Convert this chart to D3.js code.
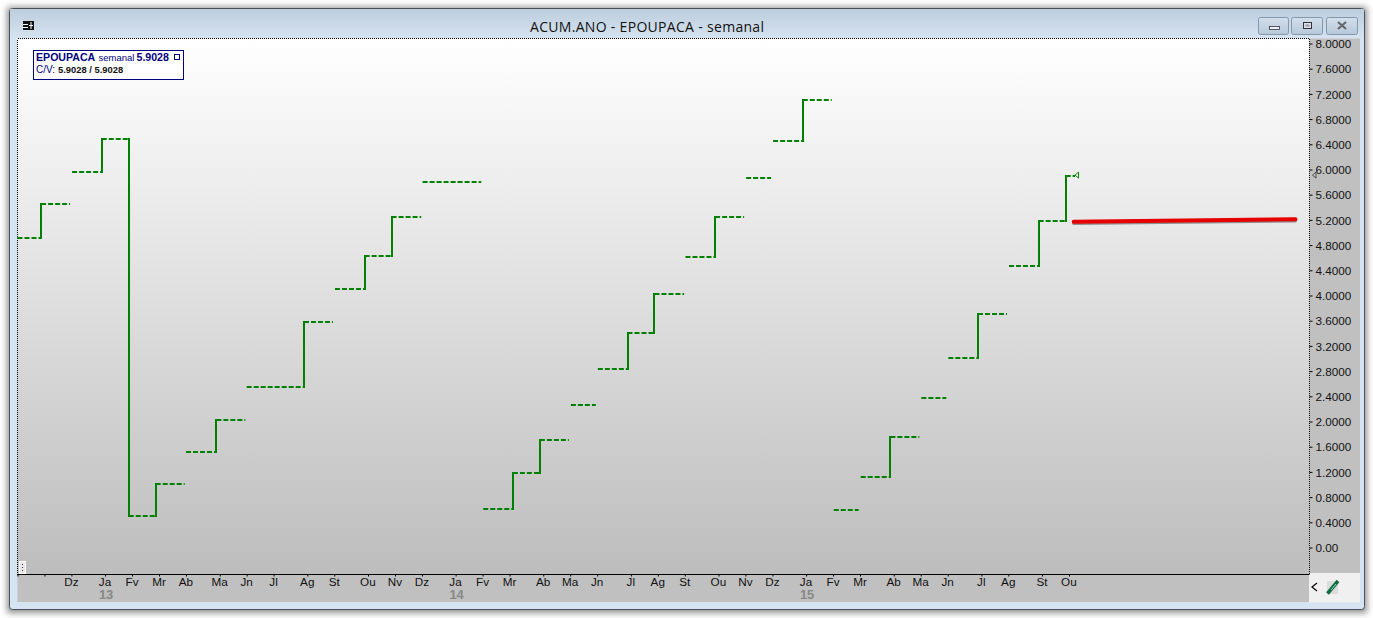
<!DOCTYPE html>
<html><head><meta charset="utf-8">
<script src="https://cdn.jsdelivr.net/npm/d3@7/dist/d3.min.js"></script>
<style>html,body{margin:0;padding:0;background:#fff;overflow:hidden}svg{display:block}text{font-family:"Liberation Sans",Arial,sans-serif}</style>
</head><body><svg id="c" width="1373" height="618"></svg>
<script>
// --- data ---
const title = "ACUM.ANO - EPOUPACA - semanal";
const segStart = [0,3.5,8.1,12.5,16.5,20.5,25,29.5,34,42.5,47.1,51.5,55.5,60.1,69.1,73.5,77.5,82.1,86.1,90.5,94.5,99.1,103.5,108.1,112.1,116.5,121.1,125.1,129.5,134.1,138.1,142.5,147.1,151.5,155.5];
const segEnd   = [3.5,7.8,12.5,16.5,20.5,24.8,29.5,33.8,42.5,46.8,51.5,55.5,59.9,68.8,73.5,77.5,81.8,85.8,90.5,94.5,98.9,103.5,107.8,111.8,116.5,120.8,124.8,129.5,133.8,137.8,142.5,146.8,151.5,155.5,156.9];
const segValue = [4.91,5.45,5.96,6.48,0.50,1.01,1.52,2.02,2.54,3.58,4.10,4.63,5.25,5.80,0.61,1.19,1.71,2.26,2.83,3.40,4.02,4.61,5.24,5.87,6.45,7.10,0.60,1.12,1.75,2.37,3.01,3.71,4.47,5.19,5.9028];
const trendWeeks = [156.7,189.6];
const trendValues = [5.17,5.21];
const yTicks = [8,7.6,7.2,6.8,6.4,6,5.6,5.2,4.8,4.4,4,3.6,3.2,2.8,2.4,2,1.6,1.2,0.8,0.4,0];
const monthWeeks = [0,4,8,13,17,21,25,30,34,38,43,47,52,56,60,65,69,73,78,82,86,91,95,99,104,108,112,117,121,125,130,134,138,143,147,152,156];
const monthLabels = ["","","Dz","Ja","Fv","Mr","Ab","Ma","Jn","Jl","Ag","St","Ou","Nv","Dz","Ja","Fv","Mr","Ab","Ma","Jn","Jl","Ag","St","Ou","Nv","Dz","Ja","Fv","Mr","Ab","Ma","Jn","Jl","Ag","St","Ou"];
const yearWeeks = [13,65,117];
const yearLabels = ["13","14","15"];

const svg = d3.select("#c");
const defs = svg.append("defs");
const grad = (id,stops)=>{const g=defs.append("linearGradient").attr("id",id).attr("x1",0).attr("y1",0).attr("x2",0).attr("y2",1);
  stops.forEach(s=>g.append("stop").attr("offset",s[0]).attr("stop-color",s[1]));};
grad("plotBg",[[0,"#ffffff"],[1,"#bdbdbd"]]);
grad("titleBg",[[0,"#bccddd"],[1,"#d6e3f0"]]);
grad("btn",[[0,"#d3dfeb"],[1,"#b6c8da"]]);
const sh = defs.append("filter").attr("id","sh").attr("x","-3%").attr("y","-5%").attr("width","106%").attr("height","110%");
sh.append("feGaussianBlur").attr("stdDeviation",3);

// window chrome
svg.append("rect").attr("x",7).attr("y",7).attr("width",1360).attr("height",606).attr("fill","#555").attr("opacity",.65).attr("filter","url(#sh)");
svg.append("rect").attr("x",9.5).attr("y",8.5).attr("width",1355).attr("height",601).attr("rx",3).attr("fill","#d6e3f0").attr("stroke","#4a5058");
svg.append("rect").attr("x",10).attr("y",9).attr("width",1354).attr("height",29).attr("fill","url(#titleBg)");
svg.append("text").attr("x",647).attr("y",32).attr("text-anchor","middle").attr("font-size",14).attr("fill","#111").style("font-family","'Open Sans'").attr("textLength",234).text(title);

// window buttons
[[1259,30],[1292,31],[1327,31]].forEach(b=>svg.append("rect").attr("x",b[0]-.5).attr("y",17.5).attr("width",b[1]).attr("height",17).attr("rx",2).attr("fill","url(#btn)").attr("stroke","#8397ad"));
svg.append("rect").attr("x",1269.5).attr("y",26.5).attr("width",10).attr("height",3).attr("fill","#eef").attr("stroke","#333").attr("stroke-width",.8);
svg.append("rect").attr("x",1303.5).attr("y",22.5).attr("width",8).attr("height",6).attr("fill","#dde").attr("stroke","#333").attr("stroke-width",1);
svg.append("rect").attr("x",1305.5).attr("y",24.5).attr("width",4).attr("height",2).attr("fill","#99a").attr("stroke","none");
svg.append("path").attr("d","M1338,22 L1346,29 M1346,22 L1338,29").attr("stroke","#666").attr("stroke-width",2.2);

// app icon
svg.append("rect").attr("x",23).attr("y",21).attr("width",11).attr("height",9).attr("fill","#111");
svg.append("path").attr("d","M23,24.5h5M23,27.5h5M31,22v7M29,25.5h4").attr("stroke","#fff").attr("stroke-width",1);

// plot backgrounds
const L=17.5,R=1309.5,T=38.5,B=574.5;
svg.append("rect").attr("x",L).attr("y",T).attr("width",R-L).attr("height",B-T).attr("fill","url(#plotBg)");
svg.append("rect").attr("x",R).attr("y",T).attr("width",50.5).attr("height",B-T).attr("fill","#c0c0c0");
svg.append("rect").attr("x",L).attr("y",B).attr("width",R-L).attr("height",27.5).attr("fill","#c0c0c0");
svg.append("rect").attr("x",R-.5).attr("y",B-1.5).attr("width",51).attr("height",29.5).attr("fill","#f0f0f0");

// scales
const x = d3.scaleLinear().domain([0,156]).range([17.5,1069]);
const y = d3.scaleLinear().domain([0,8]).range([547.5,43.5]);

// dotted borders
svg.append("path").attr("d",`M${L},${B}V${T}H${R}V${B}`).attr("fill","none").attr("stroke","#000").attr("stroke-dasharray","1,1").attr("shape-rendering","crispEdges");
svg.append("line").attr("x1",L).attr("x2",R).attr("y1",B).attr("y2",B).attr("stroke","#000");

// y axis
const yAxis = d3.axisRight(y).tickValues(yTicks).tickSize(3).tickPadding(3)
  .tickFormat(d=>d===0?"0.00":d3.format(".4f")(d));
const gy = svg.append("g").attr("transform",`translate(${R},0)`).call(yAxis);
gy.select(".domain").remove();
gy.selectAll("line").attr("stroke","#000");
gy.selectAll("text").attr("font-size",11.7).attr("fill","#111").style("font-family","'Liberation Sans'").attr("dy","0.36em").attr("x",6);

// x axis
const xAxis = d3.axisBottom(x).tickValues(monthWeeks).tickSize(2).tickPadding(2)
  .tickFormat(d=>monthLabels[monthWeeks.indexOf(d)]);
const gx = svg.append("g").attr("transform",`translate(0,${B})`).call(xAxis);
gx.select(".domain").remove();
gx.selectAll("line").attr("stroke","#000");
gx.selectAll("text").attr("font-size",11.7).attr("fill","#111").style("font-family","'Liberation Sans'").attr("y",3).attr("dx",-0.6).attr("dy","0.71em");
svg.selectAll(".yr").data(yearLabels).join("text").attr("class","yr")
  .attr("x",(d,i)=>x(yearWeeks[i])+1).attr("y",599).attr("text-anchor","middle")
  .attr("font-size",13).attr("font-weight","bold").attr("fill","#888").text(d=>d);

// handle
svg.append("rect").attr("x",19.5).attr("y",561.5).attr("width",6).attr("height",12).attr("fill","#e8e8e8").attr("stroke","#fff");
svg.append("path").attr("d","M22.5,564v8").attr("stroke","#336").attr("stroke-dasharray","1,2");

// series: horizontal dashes + vertical steps (snapped to whole pixels)
const green="#008000";
const px = v=>Math.round(v);
const g = svg.append("g");
g.selectAll(".h").data(segValue).join("line").attr("class","h")
  .attr("x1",(d,i)=>x(segStart[i])).attr("x2",(d,i)=>x(segEnd[i]))
  .attr("y1",d=>px(y(d))).attr("y2",d=>px(y(d)))
  .attr("stroke",green).attr("stroke-width",2).attr("stroke-dasharray","5,2");
const steps = d3.range(1,segValue.length).filter(i=>segStart[i]===segEnd[i-1]);
g.selectAll(".v").data(steps).join("line").attr("class","v")
  .attr("x1",i=>px(x(segStart[i]))).attr("x2",i=>px(x(segStart[i])))
  .attr("y1",i=>px(y(segValue[i-1]))+(segValue[i]>segValue[i-1]?1:-1)).attr("y2",i=>px(y(segValue[i]))+(segValue[i]>segValue[i-1]?-1:1))
  .attr("stroke",green).attr("stroke-width",2);

// last-value markers
const last = segValue[segValue.length-1], ly=y(last)-.5, lx=x(segEnd[segEnd.length-1]);
svg.append("path").attr("d",`M${lx},${ly}l3.5,-3v6z`).attr("fill","#fff").attr("stroke",green);
svg.append("path").attr("d",`M${R+3},${ly}l3.5,-3v6z`).attr("fill","none").attr("stroke","#333").attr("stroke-width",.8);

// trend line
const tl = d3.line().x((d,i)=>x(trendWeeks[i])).y(d=>y(d));
svg.append("path").attr("d",tl(trendValues)).attr("transform","translate(0,1.5)").attr("fill","none").attr("stroke","#777").attr("stroke-width",3.5).attr("stroke-linecap","round").attr("opacity",.8);
svg.append("path").attr("d",tl(trendValues)).attr("fill","none").attr("stroke","#e60000").attr("stroke-width",4).attr("stroke-linecap","round");

// legend box
const lg = svg.append("g");
lg.append("rect").attr("x",33.5).attr("y",50.5).attr("width",150).attr("height",29).attr("fill","#fff").attr("stroke","#000080");
lg.append("text").attr("x",36).attr("y",61).attr("font-size",10.6).attr("font-weight","bold").attr("fill","#000080").text("EPOUPACA");
lg.append("text").attr("x",98.5).attr("y",61).attr("font-size",9.5).attr("fill","#000080").text("semanal");
lg.append("text").attr("x",136.5).attr("y",61).attr("font-size",10.6).attr("font-weight","bold").attr("fill","#000080").text("5.9028");
lg.append("rect").attr("x",174.5).attr("y",54.5).attr("width",5).attr("height",5).attr("fill","#fff").attr("stroke","#000080");
lg.append("text").attr("x",36).attr("y",73).attr("font-size",10).attr("fill","#000080").text("C/V:");
lg.append("text").attr("x",58).attr("y",73).attr("font-size",9.4).attr("font-weight","bold").attr("fill","#111").text("5.9028 / 5.9028");

// corner controls
svg.append("path").attr("d","M1317,583l-5,4l5,4").attr("fill","none").attr("stroke","#000").attr("stroke-width",1.2);
svg.append("rect").attr("x",1327).attr("y",581).attr("width",11).attr("height",13).attr("fill","#dcdcdc");
svg.append("path").attr("d","M1327.5,593.5L1338,581").attr("stroke","#0f6b42").attr("stroke-width",3.5);
svg.append("path").attr("d","M1331,590L1336,584").attr("stroke","#7fe0b0").attr("stroke-width",1);
</script></body></html>
